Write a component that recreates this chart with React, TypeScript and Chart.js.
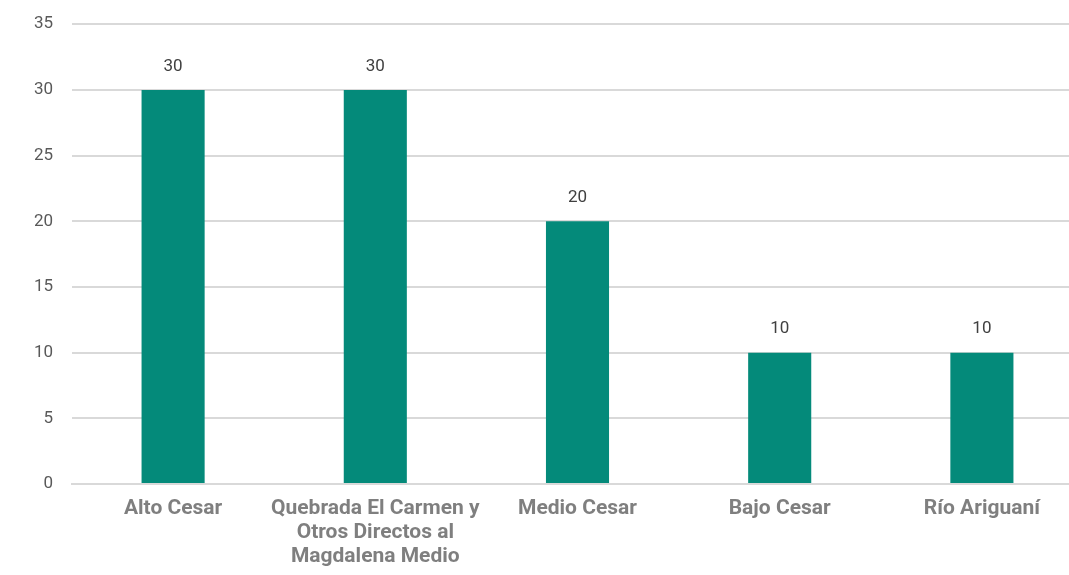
import React, { useEffect, useRef } from "react";
import { Chart, registerables } from "chart.js";

Chart.register(...registerables);

const categories: (string | string[])[] = [
  "Alto Cesar",
  ["Quebrada El Carmen y", "Otros Directos al", "Magdalena Medio"],
  "Medio Cesar",
  "Bajo Cesar",
  "Río Ariguaní",
];
const values: number[] = [30, 30, 20, 10, 10];
const yTicks: number[] = [0, 5, 10, 15, 20, 25, 30, 35];

const BAR_COLOR = "#048a7a";

const valueLabels = {
  id: "valueLabels",
  afterDatasetsDraw(chart: any) {
    const ctx = chart.ctx;
    const meta = chart.getDatasetMeta(0);
    ctx.save();
    ctx.font = "17px Roboto";
    ctx.fillStyle = "#404040";
    ctx.textAlign = "center";
    ctx.textBaseline = "bottom";
    meta.data.forEach((bar: any, i: number) => {
      ctx.fillText(String(values[i]), bar.x, bar.y - 15);
    });
    ctx.restore();
  },
};

export default function App() {
  const ref = useRef<HTMLCanvasElement | null>(null);
  useEffect(() => {
    document.body.style.margin = "0";
    if (!ref.current) return;
    const chart = new Chart(ref.current, {
      type: "bar",
      data: {
        labels: categories,
        datasets: [
          {
            data: values,
            backgroundColor: BAR_COLOR,
            barPercentage: 0.312,
            categoryPercentage: 1,
          },
        ],
      },
      options: {
        animation: false,
        responsive: false,
        maintainAspectRatio: false,
        layout: { padding: { top: 4, right: 0, bottom: 0, left: 0 } },
        plugins: {
          legend: { display: false },
          tooltip: { enabled: false },
        },
        scales: {
          x: {
            grid: { display: false, drawTicks: false },
            border: { color: "#d9d9d9", width: 2 },
            ticks: {
              color: "#7f7f7f",
              font: { family: "Roboto", size: 21, weight: "bold", lineHeight: "24px" },
              padding: 13,
              maxRotation: 0,
              autoSkip: false,
            },
          },
          y: {
            min: 0,
            max: 35,
            afterFit: (s: any) => {
              s.width = 72;
            },
            afterBuildTicks: (s: any) => {
              s.ticks = yTicks.map((v) => ({ value: v }));
            },
            grid: { color: "#d9d9d9", lineWidth: 2, drawTicks: false },
            border: { display: false },
            ticks: {
              color: "#595959",
              font: { family: "Roboto", size: 17 },
              padding: 19,
              stepSize: 5,
            },
          },
        },
      },
      plugins: [valueLabels],
    });
    return () => chart.destroy();
  }, []);
  return (
    <div style={{ position: "relative", width: 1069, height: 575, overflow: "hidden" }}>
      <canvas
        ref={ref}
        width={1083}
        height={587}
        style={{ display: "block", position: "absolute", left: 0, top: -5 }}
      />
    </div>
  );
}
